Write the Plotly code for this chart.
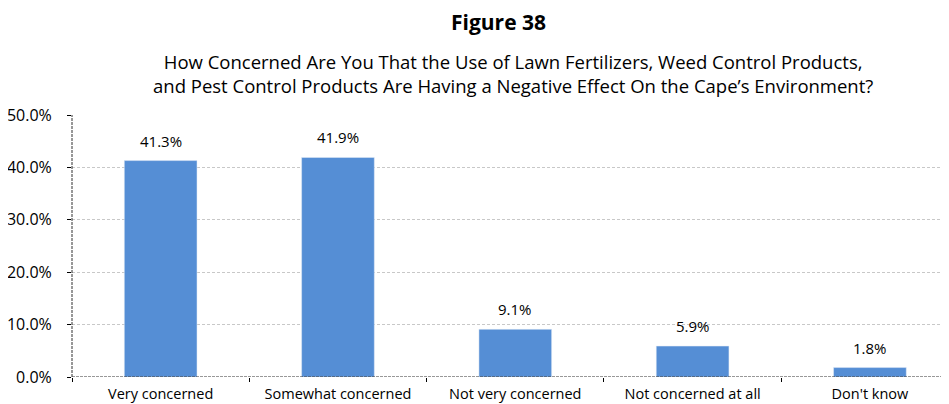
import plotly.graph_objects as go

categories = ["Very concerned", "Somewhat concerned", "Not very concerned",
              "Not concerned at all", "Don't know"]
values = [41.3, 41.9, 9.1, 5.9, 1.8]
y_ticks = [0, 10, 20, 30, 40, 50]

FONT = "Open Sans, Calibri, sans-serif"

fig = go.Figure(go.Bar(
    x=categories,
    y=values,
    marker_color="#558ED5",
    width=0.41,
))

# value labels above the bars
for c, v in zip(categories, values):
    fig.add_annotation(x=c, y=v, text=f"{v:.1f}%", showarrow=False,
                       yanchor="middle", yshift=20,
                       font=dict(size=15, color="#000000"))

fig.update_layout(
    width=949, height=404,
    margin=dict(l=64, r=8, t=107, b=35),
    plot_bgcolor="white", paper_bgcolor="white",
    showlegend=False,
    font=dict(family=FONT, color="#000000"),
    xaxis=dict(
        range=[-0.5, 4.446],
        automargin=False,
        showgrid=False,
        ticks="outside", tickson="boundaries", ticklen=4,
        tickcolor="#000000",
        tickfont=dict(size=14.5),
        ticklabelstandoff=6,
        showline=False,
    ),
    yaxis=dict(
        range=[0, 50],
        automargin=False,
        tickvals=y_ticks,
        ticktext=[f"{v:.1f}%" for v in y_ticks],
        ticks="outside", ticklen=4, tickcolor="#000000",
        tickfont=dict(size=16),
        ticklabelstandoff=12,
        showgrid=True, gridcolor="#C8C8C8", griddash="3px,2px", gridwidth=1,
        zeroline=False, showline=False,
    ),
)

# dashed axis lines
fig.add_shape(type="line", xref="paper", yref="y", x0=0, x1=1, y0=0, y1=0,
              line=dict(color="#303030", width=1, dash="3px,1px"))
fig.add_shape(type="line", xref="paper", yref="paper", x0=0, x1=0, y0=0, y1=1,
              line=dict(color="#303030", width=1, dash="3px,1px"))

fig.add_annotation(text="<b>Figure 38</b>", xref="paper", yref="paper",
                   x=0.486, y=1, yshift=93, yanchor="middle", showarrow=False,
                   font=dict(size=21))
fig.add_annotation(
    text="How Concerned Are You That the Use of Lawn Fertilizers, Weed Control Products,"
         "<br>and Pest Control Products Are Having a Negative Effect On the Cape\u2019s Environment?",
    xref="paper", yref="paper", x=0.503, y=1, yshift=42, yanchor="middle",
    showarrow=False, font=dict(size=18.5), align="center")

fig.write_html("out.html")
